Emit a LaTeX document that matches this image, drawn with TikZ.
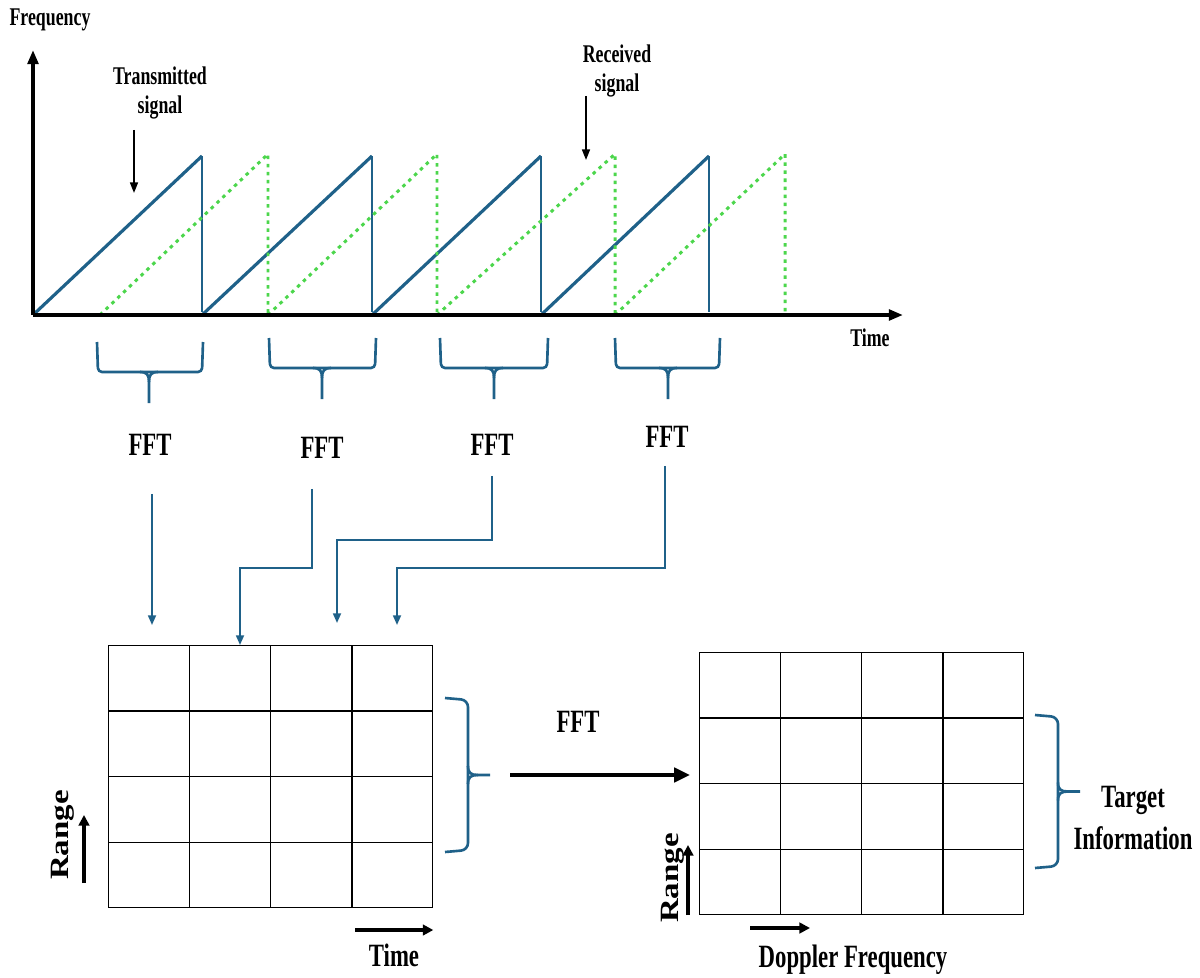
\documentclass[tikz,border=0pt]{standalone}
\usepackage{fontspec}
\setmainfont{Liberation Serif}[FakeStretch=0.7]
\newfontfamily\widefont{Liberation Serif}[FakeStretch=1.25]
\usetikzlibrary{arrows.meta,calc}
\definecolor{sigblue}{HTML}{1F6189}
\definecolor{siggreen}{HTML}{4CD64C}
\tikzset{
  lbl/.style={font=\fontsize{14.5}{17}\selectfont\bfseries,align=center,inner sep=0pt},
  biglbl/.style={font=\fontsize{18.5}{23.5}\selectfont\bfseries,align=center,inner sep=0pt},
  rnglbl/.style={font=\widefont\fontsize{15}{17}\selectfont\bfseries,rotate=90,inner sep=0pt},
  fftlbl/.style={font=\fontsize{18.5}{20}\selectfont\bfseries,inner sep=0pt},
  axis/.style={line width=2.3pt,-{Triangle[length=8pt,width=6pt]}},
  tx/.style={sigblue,line width=1.8pt},
  txdrop/.style={sigblue,line width=0.9pt},
  rx/.style={siggreen,line width=1.7pt,dash pattern=on 2pt off 2.6pt},
  conn/.style={sigblue,line width=1.1pt,-{Triangle[length=5.5pt,width=4.5pt]}},
  pointer/.style={black,line width=1pt,-{Triangle[length=6pt,width=4.5pt]}},
  dirarrow/.style={black,line width=2.2pt,-{Triangle[length=6pt,width=6pt]}},
  brc/.style={sigblue,line width=1.5pt},
  cellbox/.style={draw,line width=0.8pt,inner sep=0pt,anchor=north west,
    minimum width=6.48cm,minimum height=5.24cm},
}
\begin{document}
\begin{tikzpicture}[x=0.02cm,y=-0.02cm]
\useasboundingbox (0,0) rectangle (1200,977);
% chirps: transmitted (solid) and received (dotted)
\foreach \a/\b in {33/202,202/372,372/541,541/709}{
  \draw[tx] (\a,315) -- (\b,156);
  \draw[txdrop] (\b,156) -- (\b,312);
}
\foreach \a/\b in {100/268,268/437,437/615,615/785}{
  \draw[rx] (\a,315) -- (\b,154) -- (\b,315);
}
% axes
\coordinate (o) at (33,315);
\draw[axis] (o) -- (33,50);
\draw[axis] (o) -- (903,315);
\node[lbl] (flbl) at (50,20) {Frequency};
\node[lbl] (tlbl) at (870,338) {Time};
\node[lbl] (txlbl) at (160,93) {Transmitted\\signal};
\node[lbl] (rxlbl) at (617,71) {Received\\signal};
\coordinate (txp) at (134,193);
\coordinate (rxp) at (586,160);
\draw[pointer] (txlbl.south -| txp) ++(0,10) -- (txp);
\draw[pointer] (rxlbl.south -| rxp) ++(0,-2) -- (rxp);
% one brace per chirp
\foreach \l/\m/\r/\t in {97/149/203/342,269/322/376/338,440/494/548/338,615/668/720/338}{
  \draw[brc,rounded corners=2.3pt] (\l,\t) -- (\l+1,\t+30) -- (\r-1,\t+30) -- (\r,\t);
  \draw[brc] (\m-9,\t+30) .. controls (\m-2,\t+30) and (\m,\t+33) .. (\m,\t+40) -- (\m,\t+61);
  \draw[brc] (\m+9,\t+30) .. controls (\m+2,\t+30) and (\m,\t+33) .. (\m,\t+40);
}
\node[fftlbl] (fft1) at (150,445) {FFT};
\node[fftlbl] (fft2) at (322,448) {FFT};
\node[fftlbl] (fft3) at (492,445) {FFT};
\node[fftlbl] (fft4) at (667,437) {FFT};
% range-time matrix
\node[cellbox] (rt) at (108,645) {};
\foreach \i in {1,2,3}{
  \draw[line width=0.8pt] ($(rt.north west)!\i/4!(rt.north east)$) -- ($(rt.south west)!\i/4!(rt.south east)$);
  \draw[line width=0.8pt] ($(rt.north west)!\i/4!(rt.south west)$) -- ($(rt.north east)!\i/4!(rt.south east)$);
}
% range-doppler matrix
\node[cellbox] (rd) at (699,652) {};
\foreach \i in {1,2,3}{
  \draw[line width=0.8pt] ($(rd.north west)!\i/4!(rd.north east)$) -- ($(rd.south west)!\i/4!(rd.south east)$);
  \draw[line width=0.8pt] ($(rd.north west)!\i/4!(rd.south west)$) -- ($(rd.north east)!\i/4!(rd.south east)$);
}
% FFT outputs into the matrix
\coordinate (in1) at ($(rt.north west)+(44,-20)$);
\coordinate (in2) at ($(rt.north west)+(132,0)$);
\coordinate (in3) at ($(rt.north west)+(229,-22)$);
\coordinate (in4) at ($(rt.north west)+(289,-20)$);
\draw[conn] (fft1.south) ++(2,38) -- (in1);
\draw[conn] (fft2.south) ++(-10,30) |- (240,568) -- (in2);
\draw[conn] (fft3.south) ++(0,20) |- (337,540) -- (in3);
\draw[conn] (fft4.south) ++(-2,18) |- (397,568) -- (in4);
% second FFT, braces round the rows
\foreach \x/\t/\b in {445/698/852,1035/715/868}{
  \pgfmathsetmacro\m{(\t+\b)/2}
  \draw[brc,rounded corners=4pt] (\x,\t) -- (\x+23,\t+2) -- (\x+23,\b-2) -- (\x,\b);
  \draw[brc] (\x+23,\m-9) .. controls (\x+23,\m-2) and (\x+26,\m) .. (\x+33,\m) -- (\x+45,\m);
  \draw[brc] (\x+23,\m+9) .. controls (\x+23,\m+2) and (\x+26,\m) .. (\x+33,\m);
}
\coordinate (fa) at (510,775);
\draw[dirarrow,line width=2.6pt,-{Triangle[length=9pt,width=8pt]}] (fa) -- ($(rd.west |- fa)+(-9,0)$);
\node[fftlbl] (fft5) at (578,722) {FFT};
\node[biglbl] (tgt) at (1133,818) {Target\\Information};
% axis hints
\node[rnglbl] (rng1) at (63,835) {Range};
\draw[dirarrow] (84,883) -- (84,815);
\node[biglbl] (tm) at (394,955) {Time};
\draw[dirarrow] (355,930) -- (rt.south east |- 0,930);
\node[rnglbl] (rng2) at (673,878) {Range};
\draw[dirarrow] (688,915) -- (688,845);
\node[biglbl] (dop) at (853,960) {Doppler Frequency};
\draw[dirarrow] (750,928) -- (810,928);
\end{tikzpicture}
\end{document}
